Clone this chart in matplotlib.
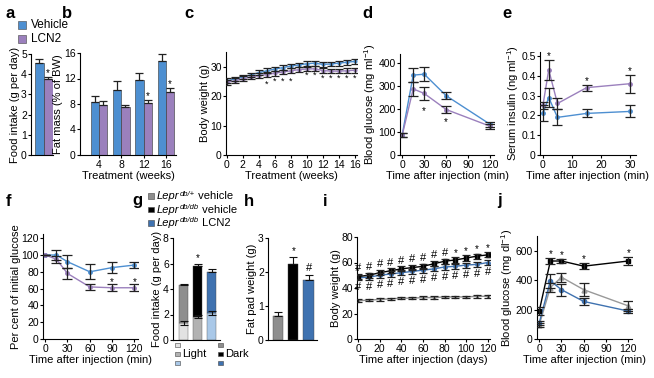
import matplotlib.pyplot as plt
import numpy as np
from matplotlib.patches import Rectangle

plt.rcParams['font.family'] = ['Liberation Sans', 'DejaVu Sans']
plt.rcParams['font.size'] = 8
plt.rcParams['mathtext.fontset'] = 'custom'
plt.rcParams['mathtext.rm'] = 'Liberation Sans'
plt.rcParams['mathtext.it'] = 'Liberation Sans:italic'
plt.rcParams['mathtext.bf'] = 'Liberation Sans:bold'
plt.rcParams['axes.linewidth'] = 0.8
plt.rcParams['xtick.major.size'] = 2
plt.rcParams['ytick.major.size'] = 2
plt.rcParams['xtick.major.pad'] = 1.5
plt.rcParams['ytick.major.pad'] = 1

# colours
VEH = '#4d8fd1'
LCN = '#9b80bd'
GREY = '#8e8e8e'
LGREY = '#e2e2e2'
MGREY = '#b2b2b2'
BLUE = '#3f72b0'
LBLUE = '#a9c8e8'

# ---- data ----
# a: food intake
a_vals = [4.55, 3.75]
a_err = [0.2, 0.1]

# b: fat mass
b_weeks = [4, 8, 12, 16]
b_veh = [8.3, 10.2, 11.7, 14.7]
b_veh_err = [0.9, 1.4, 1.2, 1.1]
b_lcn = [7.9, 7.5, 8.2, 9.9]
b_lcn_err = [0.5, 0.3, 0.4, 0.6]

# c: body weight
c_weeks = np.arange(0, 17)
c_veh = [25.2, 25.8, 26.5, 27.2, 28.0, 28.6, 29.2, 29.7, 30.2, 30.6, 31.0, 31.2, 30.8, 30.9, 31.2, 31.5, 31.8]
c_lcn = [24.7, 25.2, 25.9, 26.5, 27.0, 27.3, 27.8, 28.2, 28.6, 29.0, 29.2, 29.3, 28.7, 28.5, 28.5, 28.6, 28.8]
c_err = [0.8] * 17
c_star_x = [5, 6, 7, 8, 10, 11, 12, 13, 14, 15, 16]
c_star_y = [23.9, 25, 25, 25, 27, 27, 26, 26, 26, 26, 26]

# d: glucose tolerance
d_t = [0, 15, 30, 60, 120]
d_veh = [88, 348, 352, 258, 133]
d_veh_err = [8, 30, 30, 15, 10]
d_lcn = [86, 288, 268, 198, 125]
d_lcn_err = [8, 30, 28, 15, 10]

# e: serum insulin
e_t = [0, 2, 5, 15, 30]
e_veh = [0.21, 0.29, 0.19, 0.21, 0.22]
e_veh_err = [0.04, 0.05, 0.04, 0.02, 0.03]
e_lcn = [0.25, 0.43, 0.26, 0.34, 0.36]
e_lcn_err = [0.02, 0.05, 0.03, 0.015, 0.045]

# f: insulin tolerance
f_t = [0, 15, 30, 60, 90, 120]
f_veh = [100, 100, 92, 80, 85, 88]
f_veh_err = [0, 6, 8, 9, 7, 4]
f_lcn = [100, 95, 78, 62, 61, 61]
f_lcn_err = [0, 4, 7, 4, 4, 4]

# g: food intake light/dark (db/+ veh, db/db veh, db/db LCN2)
g_light = [1.35, 1.82, 2.12]
g_light_err = [0.15, 0.12, 0.12]
g_total = [4.35, 5.8, 5.32]
g_total_err = [0.05, 0.15, 0.22]

# h: fat pad weight
h_vals = [0.72, 2.23, 1.77]
h_err = [0.1, 0.2, 0.13]

# i: body weight db/db
i_days = np.arange(0, 121, 10)
i_het = [30, 30.5, 31, 31.5, 32, 32, 32.5, 32.5, 33, 33, 33, 33.5, 33.5]
i_dbv = [49, 50, 52, 53.5, 55, 56, 57, 59, 61, 62, 63.5, 65, 66]
i_dbl = [48, 48.5, 50, 51, 52, 53, 54, 55, 56.5, 57, 58, 58.5, 60]
i_err = [2] * 13

# j: glucose tolerance db/db
j_t = [0, 15, 30, 60, 120]
j_het = [95, 350, 420, 335, 225]
j_het_err = [15, 30, 30, 45, 35]
j_dbv = [190, 530, 530, 495, 530]
j_dbv_err = [30, 20, 15, 20, 30]
j_dbl = [110, 395, 335, 255, 190]
j_dbl_err = [15, 45, 40, 25, 15]

group_sup = ['db/+', 'db/db', 'db/db']
group_rest = [' vehicle', ' vehicle', ' LCN2']

W, H = 654, 378
fig = plt.figure(figsize=(6.54, 3.78), dpi=100)
LAB = 8


def box(l, t, r, b):
    ax = fig.add_axes([l / W, 1 - b / H, (r - l) / W, (b - t) / H])
    ax.spines['top'].set_visible(False)
    ax.spines['right'].set_visible(False)
    ax.tick_params(labelsize=7.5, width=0.8)
    return ax


def ylab(ax, text):
    ax.set_ylabel(text, fontsize=LAB, labelpad=0.5)


def xlab(ax, text):
    ax.set_xlabel(text, fontsize=LAB, labelpad=1)


def ebar(ax, x, y, e, color, marker='o', ms=2.5, cap=3):
    ax.plot(x, y, '-', color=color, lw=1, marker=marker, ms=ms, zorder=2)
    ax.errorbar(x, y, yerr=e, fmt='none', ecolor='#222222', elinewidth=0.9,
                capsize=cap, capthick=0.9, zorder=3)


def star(ax, x, y, s='*', size=7):
    ax.text(x, y, s, ha='center', va='center', fontsize=size)


def letter(x, y, s):
    fig.text(x / W, 1 - y / H, s, fontsize=12, fontweight='bold', va='center', ha='left')


def square(x, yc, color, size=5.5):
    fig.add_artist(Rectangle((x / W, 1 - (yc + size / 2) / H), size / W, size / H,
                             transform=fig.transFigure, facecolor=color,
                             edgecolor='#444444', lw=0.4))


# a
ax = box(31, 54, 53, 155)
ax.bar([0, 1], a_vals, width=1, color=[VEH, LCN], edgecolor='#333333', lw=0.4)
ax.errorbar([0, 1], a_vals, yerr=[[0, 0], a_err], fmt='none', ecolor='#222222',
            elinewidth=0.9, capsize=3, capthick=0.9)
ax.set_xlim(-0.9, 1.55)
ax.set_ylim(0, 5)
ax.set_xticks([])
ax.set_yticks(range(0, 6))
ylab(ax, 'Food intake (g per day)')
star(ax, 1, 4.05)

# b
ax = box(80, 53, 176, 155)
bw = 1.5
ax.bar(np.array(b_weeks) - bw / 2, b_veh, width=bw, color=VEH, edgecolor='#333333', lw=0.4)
ax.bar(np.array(b_weeks) + bw / 2, b_lcn, width=bw, color=LCN, edgecolor='#333333', lw=0.4)
ax.errorbar(np.array(b_weeks) - bw / 2, b_veh, yerr=[[0] * 4, b_veh_err], fmt='none',
            ecolor='#222222', elinewidth=0.9, capsize=3, capthick=0.9)
ax.errorbar(np.array(b_weeks) + bw / 2, b_lcn, yerr=[[0] * 4, b_lcn_err], fmt='none',
            ecolor='#222222', elinewidth=0.9, capsize=3, capthick=0.9)
ax.set_xlim(0.6, 17.8)
ax.set_ylim(0, 16)
ax.set_xticks(b_weeks)
ax.set_yticks([0, 4, 8, 12, 16])
ylab(ax, 'Fat mass (% of BW)')
xlab(ax, 'Treatment (weeks)')
star(ax, 12 + bw / 2, 9.3)
star(ax, 16 + bw / 2, 11.2)

# legend a/b
for yc, col, lab in [(25, VEH, 'Vehicle'), (39, LCN, 'LCN2')]:
    square(18, yc, col, size=8)
    fig.text(31 / W, 1 - yc / H, lab, fontsize=8.5, va='center')

# c
ax = box(226, 52, 357, 155)
ebar(ax, c_weeks, c_veh, c_err, VEH, ms=2, cap=3)
ebar(ax, c_weeks, c_lcn, c_err, LCN, ms=2, cap=3)
for x, y in zip(c_star_x, c_star_y):
    star(ax, x, y, size=6.5)
ax.set_xlim(-0.1, 16.3)
ax.set_ylim(0, 35)
ax.set_xticks(range(0, 17, 2))
ax.set_yticks([0, 10, 20, 30])
ylab(ax, 'Body weight (g)')
xlab(ax, 'Treatment (weeks)')

# d
ax = box(400, 54, 494, 155)
ebar(ax, d_t, d_veh, d_veh_err, VEH, ms=2.5, cap=3.5)
ebar(ax, d_t, d_lcn, d_lcn_err, LCN, ms=2.5, cap=3.5)
star(ax, 30, 190)
star(ax, 60, 145)
ax.set_xlim(-3, 125)
ax.set_ylim(0, 440)
ax.set_xticks([0, 30, 60, 90, 120])
ax.set_yticks([0, 100, 200, 300, 400])
ylab(ax, r'Blood glucose (mg ml$^{-1}$)')
xlab(ax, 'Time after injection (min)')

# e
ax = box(540, 52, 636, 155)
ebar(ax, e_t, e_veh, e_veh_err, VEH, ms=2.5, cap=3.5)
ebar(ax, e_t, e_lcn, e_lcn_err, LCN, ms=2.5, cap=3.5)
star(ax, 2, 0.5)
star(ax, 15, 0.375)
star(ax, 30, 0.425)
ax.set_xlim(-1, 32)
ax.set_ylim(0, 0.52)
ax.set_xticks([0, 10, 20, 30])
ax.set_yticks([0, 0.1, 0.2, 0.3, 0.4, 0.5])
ax.set_yticklabels(['0', '0.1', '0.2', '0.3', '0.4', '0.5'])
ylab(ax, r'Serum insulin (ng ml$^{-1}$)')
xlab(ax, 'Time after injection (min)')

# f
ax = box(43, 234, 138, 339)
ebar(ax, f_t, f_veh, f_veh_err, VEH, ms=2.5, cap=3.5)
ebar(ax, f_t, f_lcn, f_lcn_err, LCN, ms=2.5, cap=3.5)
star(ax, 90, 68)
star(ax, 120, 68)
ax.set_xlim(-3, 125)
ax.set_ylim(0, 125)
ax.set_xticks([0, 30, 60, 90, 120])
ax.set_yticks(range(0, 121, 20))
ylab(ax, 'Per cent of initial glucose')
xlab(ax, 'Time after injection (min)')

# g
ax = box(173, 238, 220, 340)
gx = np.arange(3)
dark = np.array(g_total) - np.array(g_light)
ax.bar(gx, g_light, width=0.65, color=[LGREY, MGREY, LBLUE], edgecolor='#555555', lw=0.3)
ax.bar(gx, dark, bottom=g_light, width=0.65, color=[GREY, 'black', BLUE],
       edgecolor='#444444', lw=0.3)
ax.errorbar(gx, g_light, yerr=g_light_err, fmt='none', ecolor='#111111',
            elinewidth=0.8, capsize=3, capthick=0.8)
ax.errorbar(gx, g_total, yerr=[[0] * 3, g_total_err], fmt='none', ecolor='#111111',
            elinewidth=0.8, capsize=3, capthick=0.8)
star(ax, 1, 6.45)
ax.set_xlim(-0.75, 2.6)
ax.set_ylim(0, 8)
ax.set_xticks([])
ax.set_yticks([0, 2, 4, 6, 8])
ylab(ax, 'Food intake (g per day)')

# g legends: italic gene name, raised genotype, plain treatment
for yc, col, sup, rest in zip([196, 209.5, 223], [GREY, 'black', BLUE], group_sup, group_rest):
    square(148, yc, col)
    base = 1 - (yc + 3) / H
    t1 = fig.text(157 / W, base, 'Lepr', fontsize=8, style='italic', va='baseline')
    t2 = ax.annotate(sup, xy=(1, base + 3.5 / H), xycoords=(t1, 'figure fraction'),
                     fontsize=5.5, style='italic', va='baseline', ha='left',
                     annotation_clip=False)
    ax.annotate(rest, xy=(1, base), xycoords=(t2, 'figure fraction'),
                fontsize=8, va='baseline', ha='left', annotation_clip=False)
for x0, cols in [(175, [LGREY, MGREY, LBLUE]), (218, [GREY, 'black', BLUE])]:
    for yc, col in zip([345, 354, 363], cols):
        square(x0, yc, col, size=4.5)
fig.text(182 / W, 1 - 354 / H, 'Light', fontsize=8, va='center')
fig.text(225 / W, 1 - 354 / H, 'Dark', fontsize=8, va='center')

# h
ax = box(268, 238, 317, 340)
hx = np.arange(3)
ax.bar(hx, h_vals, width=0.68, color=[GREY, 'black', BLUE], edgecolor='#444444', lw=0.3)
ax.errorbar(hx, h_vals, yerr=[[0] * 3, h_err], fmt='none', ecolor='#111111',
            elinewidth=0.8, capsize=3, capthick=0.8)
star(ax, 1, 2.62)
star(ax, 2, 2.13, '#', 8)
ax.set_xlim(-0.65, 2.55)
ax.set_ylim(0, 3)
ax.set_xticks([])
ax.set_yticks([0, 1, 2, 3])
ylab(ax, 'Fat pad weight (g)')

# i
ax = box(357, 237, 490, 339)
ebar(ax, i_days, i_het, [1] * 13, GREY, marker='s', ms=1.8, cap=3)
ebar(ax, i_days, i_dbl, i_err, BLUE, marker='o', ms=2.5, cap=3)
ebar(ax, i_days, i_dbv, i_err, 'black', marker='s', ms=2.5, cap=3)
for x, y in zip(i_days, i_dbv):
    if x <= 80:
        star(ax, x, y + 6.5, '#', 8)
    else:
        star(ax, x, y + 5.5, '*', 7)
for x, y in zip(i_days, i_dbl):
    star(ax, x, y - 7.5, '#', 8)
ax.set_xlim(-1, 122)
ax.set_ylim(0, 80)
ax.set_xticks(range(0, 121, 20))
ax.set_yticks(range(0, 81, 20))
ylab(ax, 'Body weight (g)')
xlab(ax, 'Time after injection (days)')

# j
ax = box(537, 236, 632, 339)
ebar(ax, j_t, j_het, j_het_err, '#999999', marker='^', ms=3.5, cap=3.5)
ebar(ax, j_t, j_dbl, j_dbl_err, BLUE, marker='o', ms=3, cap=3.5)
ebar(ax, j_t, j_dbv, j_dbv_err, 'black', marker='s', ms=3, cap=3.5)
for x, y, e in zip(j_t[1:], j_dbv[1:], j_dbv_err[1:]):
    star(ax, x, y + e + 25)
ax.set_xlim(-3, 125)
ax.set_ylim(0, 700)
ax.set_xticks([0, 30, 60, 90, 120])
ax.set_yticks([0, 200, 400, 600])
ylab(ax, r'Blood glucose (mg dl$^{-1}$)')
xlab(ax, 'Time after injection (min)')

for x, y, s in [(6, 13, 'a'), (62, 13, 'b'), (184, 13, 'c'), (362, 13, 'd'),
                (502, 13, 'e'), (6, 201, 'f'), (132, 201, 'g'), (244, 201, 'h'),
                (323, 201, 'i'), (497, 201, 'j')]:
    letter(x, y, s)

fig.savefig('out.png', dpi=100)
